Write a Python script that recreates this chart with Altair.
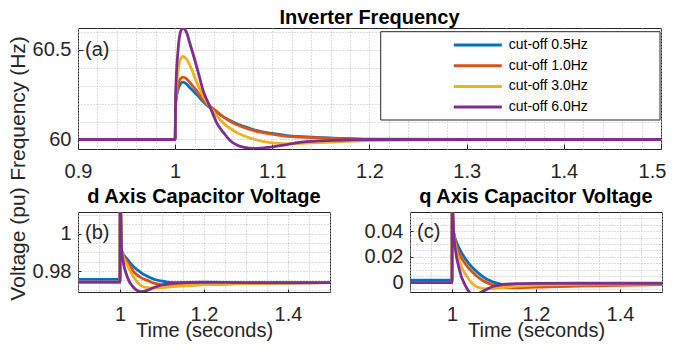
import json
import altair as alt
import pandas as pd

FONT = "Liberation Sans"
AX = "#262626"

series = ["cut-off 0.5Hz", "cut-off 1.0Hz", "cut-off 3.0Hz", "cut-off 6.0Hz"]
colors = ["#0072BD", "#D95319", "#EDB120", "#7E2F8E"]

# ---- (a) inverter frequency ----
t_freq = [0.9, 1.0, 1.0005, 1.003, 1.0055, 1.008, 1.0115, 1.0155, 1.0225, 1.029, 1.036,
          1.043, 1.05, 1.057, 1.064, 1.07, 1.082, 1.098, 1.115, 1.13, 1.163, 1.2, 1.3, 1.5]
freq_05 = [60.0, 60.0, 60.2, 60.28, 60.31, 60.32, 60.31, 60.287, 60.25, 60.21, 60.176,
           60.15, 60.125, 60.104, 60.086, 60.074, 60.052, 60.035, 60.022, 60.016, 60.008, 60.002, 60.0, 60.0]
freq_10 = [60.0, 60.0, 60.2, 60.3, 60.34, 60.348, 60.34, 60.315, 60.27, 60.22, 60.185,
           60.155, 60.125, 60.10, 60.082, 60.068, 60.048, 60.031, 60.018, 60.013, 60.006, 60.001, 60.0, 60.0]
freq_30 = [60.0, 60.0, 60.22, 60.38, 60.45, 60.463, 60.45, 60.41, 60.315, 60.24, 60.18,
           60.13, 60.09, 60.06, 60.037, 60.022, 60.0, 59.982, 59.976, 59.979, 59.986, 59.994, 60.0, 60.0]
freq_60 = [60.0, 60.0, 60.25, 60.5, 60.6, 60.622, 60.6, 60.53, 60.40, 60.27, 60.18,
           60.09, 60.037, 59.992, 59.968, 59.957, 59.95, 59.958, 59.972, 59.985, 59.995, 60.0, 60.0, 60.0]

# ---- (b) d axis / (c) q axis capacitor voltage ----
t_volt = [0.9, 1.0, 1.0005, 1.004, 1.0176, 1.033, 1.049, 1.065, 1.081, 1.097, 1.113,
          1.128, 1.16, 1.2, 1.3, 1.5]
vd_05 = [0.9755, 0.9755, 1.02, 0.9908, 0.9862, 0.9821, 0.9793, 0.9772, 0.9756, 0.9747, 0.9741,
         0.9738, 0.9735, 0.9734, 0.9736, 0.9738]
vd_10 = [0.9741, 0.9741, 1.02, 0.9906, 0.9848, 0.9795, 0.9766, 0.9750, 0.9735, 0.9727, 0.9724,
         0.9723, 0.9725, 0.9727, 0.9734, 0.9738]
vd_30 = [0.9741, 0.9741, 1.02, 0.9905, 0.9830, 0.9765, 0.9724, 0.9711, 0.9709, 0.9711, 0.9714,
         0.9717, 0.9722, 0.9727, 0.9733, 0.9738]
vd_60 = [0.9741, 0.9741, 1.02, 0.9905, 0.9767, 0.9711, 0.9690, 0.9697, 0.9712, 0.9724, 0.9732,
         0.9736, 0.9739, 0.9740, 0.9738, 0.9738]
vq_05 = [0.0019, 0.0019, 0.06, 0.0390, 0.0265, 0.0180, 0.0115, 0.0068, 0.0030, 0.0006, -0.0009,
         -0.0015, -0.0019, -0.0019, -0.0014, -0.0010]
vq_10 = [0.0, 0.0, 0.06, 0.0385, 0.0225, 0.0140, 0.0080, 0.0035, 0.0002, -0.0018, -0.0032,
         -0.0039, -0.0040, -0.0035, -0.0027, -0.0016]
vq_30 = [0.0, 0.0, 0.06, 0.0380, 0.0165, 0.0060, -0.0008, -0.0040, -0.0048, -0.0047, -0.0042,
         -0.0036, -0.0027, -0.0019, -0.0013, -0.0010]
vq_60 = [0.0, 0.0, 0.06, 0.0380, 0.0100, -0.0030, -0.0090, -0.0082, -0.0055, -0.0030, -0.0018,
         -0.0012, -0.0008, -0.0006, -0.0005, -0.0005]

# ---- axes: tick labels and dotted grid positions ----
freq_x_major = [0.9, 1.0, 1.1, 1.2, 1.3, 1.4, 1.5]
freq_x_grid = [round(0.9 + 0.02 * i, 2) for i in range(31)]
freq_y_major = [60.0, 60.5]
freq_y_grid = [60.0, 60.1, 60.2, 60.3, 60.4, 60.5, 60.6]
volt_x_major = [1.0, 1.2, 1.4]
volt_x_grid = [round(0.9 + 0.05 * i, 2) for i in range(13)]
vd_y_major = [0.98, 1.0]
vd_y_grid = [0.97, 0.975, 0.98, 0.985, 0.99, 0.995, 1.0, 1.005, 1.01]
vq_y_major = [0.0, 0.02, 0.04]
vq_y_grid = [-0.005, 0.0, 0.005, 0.01, 0.015, 0.02, 0.025, 0.03, 0.035, 0.04, 0.045, 0.05]

panel_labels = ["(a)", "(b)", "(c)"]
titles = ["Inverter Frequency", "d Axis Capacitor Voltage", "q Axis Capacitor Voltage"]


def long_df(t, cols):
    rows = []
    for s, vals in zip(series, cols):
        for ti, vi in zip(t, vals):
            rows.append({"t": ti, "v": vi, "s": s})
    return pd.DataFrame(rows)


def axis(values, major, tick, pad, **kw):
    m = json.dumps(major)
    return alt.Axis(
        values=values,
        labelExpr=f"indexof({m}, datum.value) >= 0 ? format(datum.value, '~g') : ''",
        tickOpacity={"condition": {"test": f"indexof({m}, datum.value) >= 0", "value": 1}, "value": 0},
        tickSize={"expr": str(-tick)},
        labelPadding=pad,
        labelFlush=False,
        labelOverlap=False,
        grid=True,
        **kw,
    )


def panel(df, xgrid, xmajor, ygrid, ymajor, ydomain, w, h, tick, xaxis_kw, yaxis_kw,
          title, title_y, label, label_y, legend):
    lines = alt.Chart(df).mark_line(strokeWidth=2.8, interpolate="monotone", clip=True).encode(
        x=alt.X("t:Q", scale=alt.Scale(domain=[0.9, 1.5], nice=False, zero=False),
                axis=axis(xgrid, xmajor, tick, 12 + tick, **xaxis_kw)),
        y=alt.Y("v:Q", scale=alt.Scale(domain=ydomain, nice=False, zero=False),
                axis=axis(ygrid, ymajor, tick, 7 + tick, **yaxis_kw)),
        color=alt.Color("s:N", scale=alt.Scale(domain=series, range=colors), legend=legend),
    )
    lab = alt.Chart(pd.DataFrame({"lab": [label]})).mark_text(
        align="left", baseline="middle", fontSize=20, font=FONT, color=AX
    ).encode(x=alt.value(7), y=alt.value(label_y), text="lab:N")
    ttl = alt.Chart(pd.DataFrame({"ttl": [title]})).mark_text(
        align="center", baseline="alphabetic", fontSize=20, fontWeight="bold", font=FONT,
        color="black"
    ).encode(x=alt.value(w / 2), y=alt.value(title_y), text="ttl:N")
    return [lines, lab, ttl], dict(width=w, height=h)


legend_a = alt.Legend(
    orient="none", legendX=392.3, legendY=9.5, title=None,
    symbolType="M-4,0H4", symbolSize=144, symbolStrokeWidth=3,
    labelFontSize=14, labelFont=FONT, labelColor="black", labelOffset=23.4,
    rowPadding=5.7, padding=0, symbolOffset=0,
)

ytitle = dict(titleX=-53.5, titleBaseline="alphabetic", titleAngle=270, titleAlign="center",
              titleFontSize=21)

# the last top-axis label sits at the page edge: nudge it inward so it stays whole
last_nudge = {"condition": {"test": "datum.value == 1.5", "value": -9}, "value": 0}

la, pa = panel(long_df(t_freq, [freq_05, freq_10, freq_30, freq_60]),
               freq_x_grid, freq_x_major, freq_y_grid, freq_y_major, [59.947, 60.622],
               583, 121, 5, dict(title=None, labelOffset=last_nudge),
               dict(title="Frequency (Hz)", titleY=80, **ytitle),
               titles[0], -4.5, panel_labels[0], 22, legend_a)
frame = alt.Chart(pd.DataFrame({"a": [0]})).mark_rect(
    fill="white", stroke=AX, strokeWidth=1
).encode(x=alt.value(302.7), x2=alt.value(582), y=alt.value(3.7), y2=alt.value(92))
top = alt.layer(la[0], frame, la[1], la[2]).properties(**pa)

xb = dict(title="Time (seconds)", titleY=44.5, titleBaseline="alphabetic")
lb, pb = panel(long_df(t_volt, [vd_05, vd_10, vd_30, vd_60]),
               volt_x_grid, volt_x_major, vd_y_grid, vd_y_major, [0.9688, 1.01155],
               252, 80, 3, xb,
               dict(title="Voltage (pu)", titleY=31.5, **ytitle),
               titles[1], -8.7, panel_labels[1], 21, None)
lc, pc = panel(long_df(t_volt, [vq_05, vq_10, vq_30, vq_60]),
               volt_x_grid, volt_x_major, vq_y_grid, vq_y_major, [-0.0073, 0.0549],
               252, 80, 3, xb, dict(title=None),
               titles[2], -8.7, panel_labels[2], 20, None)
b = alt.layer(*lb).properties(**pb)
c = alt.layer(*lc).properties(**pc)

chart = alt.vconcat(
    top,
    alt.hconcat(b, c, spacing=80, bounds="flush"),
    spacing=63, bounds="flush",
).resolve_scale(color="independent").properties(
    autosize=alt.AutoSizeParams(type="none"),
    padding={"left": 70, "top": 20, "right": 588, "bottom": 326},
    background="white",
).configure_view(stroke=AX, strokeWidth=1).configure_axis(
    domain=False,
    labelFont=FONT, labelFontSize=20, labelColor=AX,
    titleFont=FONT, titleFontSize=20, titleFontWeight="normal", titleColor=AX,
    tickColor=AX, tickWidth=1,
    gridColor="#b8b8b8", gridDash=[1, 2], gridWidth=1,
)

chart.save("out.html", embed_options={"renderer": "svg", "actions": False})
